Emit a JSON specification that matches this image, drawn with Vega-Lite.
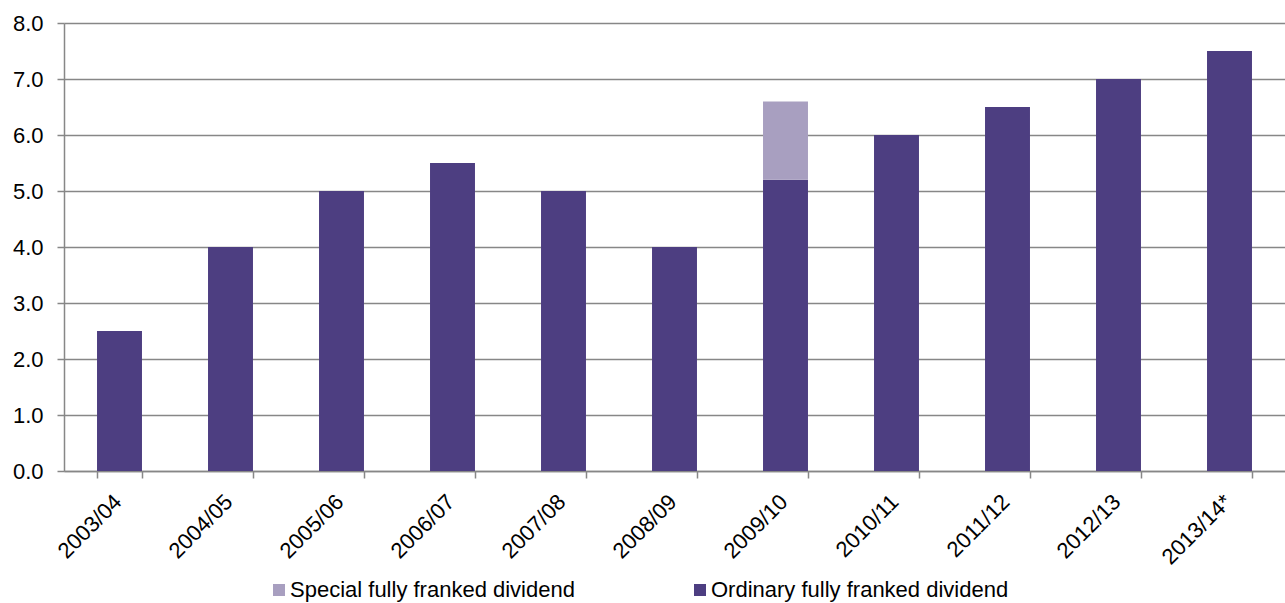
{
  "$schema": "https://vega.github.io/schema/vega-lite/v6.json",
  "width": 1221,
  "height": 448,
  "autosize": {"type": "none"},
  "padding": {"left": 64, "top": 23, "right": 0, "bottom": 132},
  "background": "white",
  "config": {
    "font": "Liberation Sans",
    "view": {"stroke": null}
  },
  "data": {
    "values": [
      {"year": "2003/04", "series": "Ordinary fully franked dividend", "value": 2.5},
      {"year": "2004/05", "series": "Ordinary fully franked dividend", "value": 4.0},
      {"year": "2005/06", "series": "Ordinary fully franked dividend", "value": 5.0},
      {"year": "2006/07", "series": "Ordinary fully franked dividend", "value": 5.5},
      {"year": "2007/08", "series": "Ordinary fully franked dividend", "value": 5.0},
      {"year": "2008/09", "series": "Ordinary fully franked dividend", "value": 4.0},
      {"year": "2009/10", "series": "Ordinary fully franked dividend", "value": 5.2},
      {"year": "2009/10", "series": "Special fully franked dividend", "value": 1.4},
      {"year": "2010/11", "series": "Ordinary fully franked dividend", "value": 6.0},
      {"year": "2011/12", "series": "Ordinary fully franked dividend", "value": 6.5},
      {"year": "2012/13", "series": "Ordinary fully franked dividend", "value": 7.0},
      {"year": "2013/14*", "series": "Ordinary fully franked dividend", "value": 7.5}
    ]
  },
  "mark": {"type": "bar"},
  "encoding": {
    "x": {
      "field": "year",
      "type": "nominal",
      "sort": null,
      "scale": {"paddingInner": 0.595, "paddingOuter": 0.2975},
      "axis": {
        "title": null,
        "labelAngle": -45,
        "labelAlign": "right",
        "labelBaseline": "middle",
        "labelFontSize": 22,
        "labelColor": "#000000",
        "labelPadding": 20,
        "labelOffset": -2,
        "tickBand": "extent",
        "tickSize": 7,
        "tickColor": "#878787",
        "domainColor": "#878787",
        "domainWidth": 1.5,
        "tickWidth": 1.5
      }
    },
    "y": {
      "field": "value",
      "type": "quantitative",
      "stack": "zero",
      "scale": {"domain": [0, 8], "nice": false},
      "axis": {
        "title": null,
        "format": ".1f",
        "values": [0, 1, 2, 3, 4, 5, 6, 7, 8],
        "labelOverlap": false,
        "labelFontSize": 22,
        "labelColor": "#000000",
        "labelPadding": 14,
        "tickSize": 7,
        "tickColor": "#878787",
        "tickWidth": 1.5,
        "grid": true,
        "gridColor": "#878787",
        "gridWidth": 1.5,
        "domainColor": "#878787",
        "domainWidth": 1.5
      }
    },
    "color": {
      "field": "series",
      "type": "nominal",
      "scale": {
        "domain": ["Special fully franked dividend", "Ordinary fully franked dividend"],
        "range": ["#a89fc0", "#4d3e81"]
      },
      "legend": {
        "title": null,
        "orient": "none",
        "direction": "horizontal",
        "legendX": 204,
        "legendY": 556,
        "symbolType": "square",
        "symbolSize": 144,
        "symbolStrokeWidth": 0,
        "labelFontSize": 22,
        "labelColor": "#000000",
        "labelOffset": 0,
        "columnPadding": 114,
        "labelLimit": 400
      }
    },
    "order": {"field": "series", "sort": "ascending"}
  }
}
